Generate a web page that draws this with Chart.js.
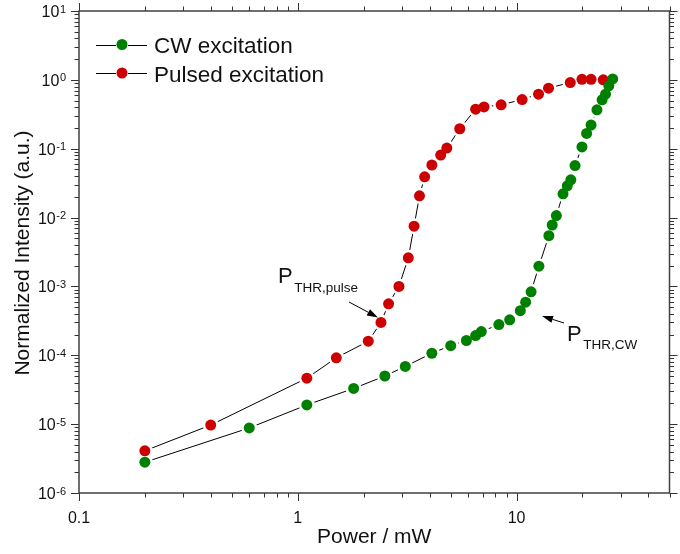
<!DOCTYPE html>
<html><head><meta charset="utf-8">
<script src="https://cdn.jsdelivr.net/npm/chart.js@4.4.0/dist/chart.umd.min.js"></script>
<style>html,body{margin:0;padding:0;background:#fff;overflow:hidden}#wrap{width:680px;height:554px;position:relative}</style>
</head><body><div id="wrap"><canvas id="c" width="680" height="554"></canvas></div>
<script>
// ---- data ----
const cwPower = [0.2, 0.6, 1.1, 1.8, 2.5, 3.1, 4.1, 5.0, 5.9, 6.5, 6.9, 8.3, 9.3, 10.4, 11.0, 11.65, 12.65, 14.05, 14.55, 15.2, 16.3, 17.05, 17.7, 18.5, 19.9, 20.9, 21.9, 23.3, 24.6, 25.5, 26.4, 27.5];
const cwIntensity = [2.8e-6, 8.8e-6, 1.9e-5, 3.3e-5, 5.0e-5, 6.9e-5, 1.07e-4, 1.38e-4, 1.64e-4, 1.93e-4, 2.21e-4, 2.79e-4, 3.27e-4, 4.45e-4, 5.9e-4, 8.35e-4, 1.97e-3, 5.46e-3, 7.8e-3, 1.07e-2, 2.21e-2, 2.89e-2, 3.53e-2, 5.7e-2, 0.106, 0.167, 0.221, 0.367, 0.513, 0.62, 0.818, 1.03];
const pulsedPower = [0.2, 0.4, 1.1, 1.5, 2.1, 2.4, 2.6, 2.9, 3.2, 3.4, 3.6, 3.8, 4.1, 4.5, 4.8, 5.5, 6.5, 7.1, 8.5, 10.6, 12.6, 14.0, 17.6, 19.9, 21.9, 24.9];
const pulsedIntensity = [4.1e-6, 9.7e-6, 4.65e-5, 9.2e-5, 1.6e-4, 3.0e-4, 5.6e-4, 1.0e-3, 2.6e-3, 7.5e-3, 2.07e-2, 3.9e-2, 5.8e-2, 8.1e-2, 0.102, 0.195, 0.375, 0.405, 0.434, 0.517, 0.62, 0.758, 0.914, 1.02, 1.02, 1.0];
const seriesNames = ['CW excitation', 'Pulsed excitation'];
const seriesColors = ['#008000', '#cc0000'];
const xTickValues = [0.1, 1, 10];
const xTickLabels = ['0.1', '1', '10'];
const yTickExponents = [-6, -5, -4, -3, -2, -1, 0, 1];
const xTitle = 'Power / mW';
const yTitle = 'Normalized Intensity (a.u.)';
const annotPulse = ['P', 'THR,pulse'];
const annotCW = ['P', 'THR,CW'];

const FONT = '"Liberation Sans", Arial, sans-serif';
const PR = 5.5;

const decor = {
  id: 'decor',
  afterDatasetsDraw(chart) {
    const ctx = chart.ctx;
    const metas = chart.getSortedVisibleDatasetMetas();
    for (let i = metas.length - 1; i >= 0; i--) {
      const m = metas[i];
      ctx.save();
      ctx.fillStyle = seriesColors[m.index];
      m.data.forEach(el => {
        ctx.beginPath(); ctx.arc(el.x, el.y, PR, 0, Math.PI * 2); ctx.fill();
      });
      ctx.restore();
    }
  },
  afterDraw(chart) {
    const ctx = chart.ctx;
    const a = chart.chartArea;
    const xs = chart.scales.x, ys = chart.scales.y;
    ctx.save();
    // ticks
    ctx.strokeStyle = '#333';
    ctx.lineWidth = 1;
    const xmin = xs.min, xmax = xs.max;
    for (let d = -1; d <= 1; d++) {
      for (let k = 1; k <= 9; k++) {
        const v = k * Math.pow(10, d);
        if (v < xmin * 0.999 || v > xmax * 1.001) continue;
        const px = Math.round(xs.getPixelForValue(v)) + 0.5;
        const len = k === 1 ? 8 : 4.5;
        ctx.beginPath();
        ctx.moveTo(px, a.bottom); ctx.lineTo(px, a.bottom + len);
        ctx.moveTo(px, a.top); ctx.lineTo(px, a.top - len);
        ctx.stroke();
      }
    }
    for (let e = -6; e <= 1; e++) {
      for (let k = 1; k <= 9; k++) {
        const v = k * Math.pow(10, e);
        if (v > ys.max * 1.001) continue;
        const py = Math.round(ys.getPixelForValue(v)) + 0.5;
        const len = k === 1 ? 8 : 4.5;
        ctx.beginPath();
        ctx.moveTo(a.left, py); ctx.lineTo(a.left - len, py);
        ctx.moveTo(a.right, py); ctx.lineTo(a.right + len, py);
        ctx.stroke();
      }
    }
    // frame
    ctx.strokeStyle = '#404040';
    ctx.lineWidth = 1.5;
    ctx.strokeRect(a.left, a.top, a.right - a.left, a.bottom - a.top);

    // x tick labels
    ctx.fillStyle = '#111';
    ctx.font = '16px ' + FONT;
    ctx.textAlign = 'center';
    ctx.textBaseline = 'alphabetic';
    xTickValues.forEach((v, i) => {
      ctx.fillText(xTickLabels[i], xs.getPixelForValue(v), a.bottom + 30);
    });
    // y tick labels with superscript exponents
    yTickExponents.forEach(e => {
      const py = ys.getPixelForValue(Math.pow(10, e));
      const sup = String(e);
      ctx.font = '11px ' + FONT;
      const sw = ctx.measureText(sup).width;
      ctx.textAlign = 'right';
      ctx.fillText(sup, a.left - 13, py + 1.5);
      ctx.font = '16px ' + FONT;
      ctx.fillText('10', a.left - 13 - sw - 0.5, py + 6);
    });

    // axis titles
    ctx.font = '21px ' + FONT;
    ctx.textAlign = 'center';
    ctx.fillText(xTitle, (a.left + a.right) / 2, 543);
    ctx.save();
    ctx.translate(29, 253);
    ctx.rotate(-Math.PI / 2);
    ctx.textBaseline = 'alphabetic';
    ctx.fillText(yTitle, 0, 0);
    ctx.restore();

    // legend
    const legY = [44.5, 73];
    const legBase = [53, 81.5];
    seriesNames.forEach((name, i) => {
      ctx.strokeStyle = '#000';
      ctx.lineWidth = 1;
      ctx.beginPath();
      ctx.moveTo(96, Math.round(legY[i]) + 0.5); ctx.lineTo(116, Math.round(legY[i]) + 0.5);
      ctx.moveTo(128, Math.round(legY[i]) + 0.5); ctx.lineTo(147, Math.round(legY[i]) + 0.5);
      ctx.stroke();
      ctx.fillStyle = seriesColors[i];
      ctx.beginPath(); ctx.arc(122, legY[i], PR, 0, Math.PI * 2); ctx.fill();
      ctx.fillStyle = '#111';
      ctx.font = '22.5px ' + FONT;
      ctx.textAlign = 'left';
      ctx.fillText(name, 154, legBase[i]);
    });

    // annotations
    function label(parts, x, y) {
      ctx.fillStyle = '#111';
      ctx.textAlign = 'left';
      ctx.font = '22px ' + FONT;
      ctx.fillText(parts[0], x, y);
      const w = ctx.measureText(parts[0]).width;
      ctx.font = '13.5px ' + FONT;
      ctx.fillText(parts[1], x + w + 1.5, y + 8.5);
    }
    function arrow(x1, y1, x2, y2) {
      const ang = Math.atan2(y2 - y1, x2 - x1);
      const hl = 11, hw = 3.5;
      const bx = x2 - hl * Math.cos(ang), by = y2 - hl * Math.sin(ang);
      ctx.strokeStyle = '#000'; ctx.lineWidth = 1;
      ctx.beginPath(); ctx.moveTo(x1, y1); ctx.lineTo(bx, by); ctx.stroke();
      ctx.fillStyle = '#000';
      ctx.beginPath();
      ctx.moveTo(x2, y2);
      ctx.lineTo(bx + hw * Math.sin(ang), by - hw * Math.cos(ang));
      ctx.lineTo(bx - hw * Math.sin(ang), by + hw * Math.cos(ang));
      ctx.closePath(); ctx.fill();
    }
    label(annotPulse, 278, 283);
    arrow(349, 302, 378, 317.5);
    label(annotCW, 567, 340.5);
    arrow(564, 323, 542, 316);
    ctx.restore();
  }
};

const mk = (xs, ys) => xs.map((x, i) => ({ x: x, y: ys[i] }));
new Chart(document.getElementById('c').getContext('2d'), {
  type: 'scatter',
  data: {
    datasets: [
      { label: seriesNames[0], data: mk(cwPower, cwIntensity), showLine: true, borderColor: '#000', borderWidth: 1,
        pointRadius: PR, pointBackgroundColor: seriesColors[0], pointBorderColor: '#fff', pointBorderWidth: 5 },
      { label: seriesNames[1], data: mk(pulsedPower, pulsedIntensity), showLine: true, borderColor: '#000', borderWidth: 1,
        pointRadius: PR, pointBackgroundColor: seriesColors[1], pointBorderColor: '#fff', pointBorderWidth: 5 }
    ]
  },
  options: {
    responsive: false, animation: false, devicePixelRatio: 1, events: [],
    layout: { padding: { left: 79, top: 11, right: 2, bottom: 61 } },
    plugins: { legend: { display: false }, tooltip: { enabled: false } },
    scales: {
      x: { type: 'logarithmic', min: 0.1, max: 50, display: false },
      y: { type: 'logarithmic', min: 1e-6, max: 10, display: false }
    }
  },
  plugins: [decor]
});
</script>
</body></html>
